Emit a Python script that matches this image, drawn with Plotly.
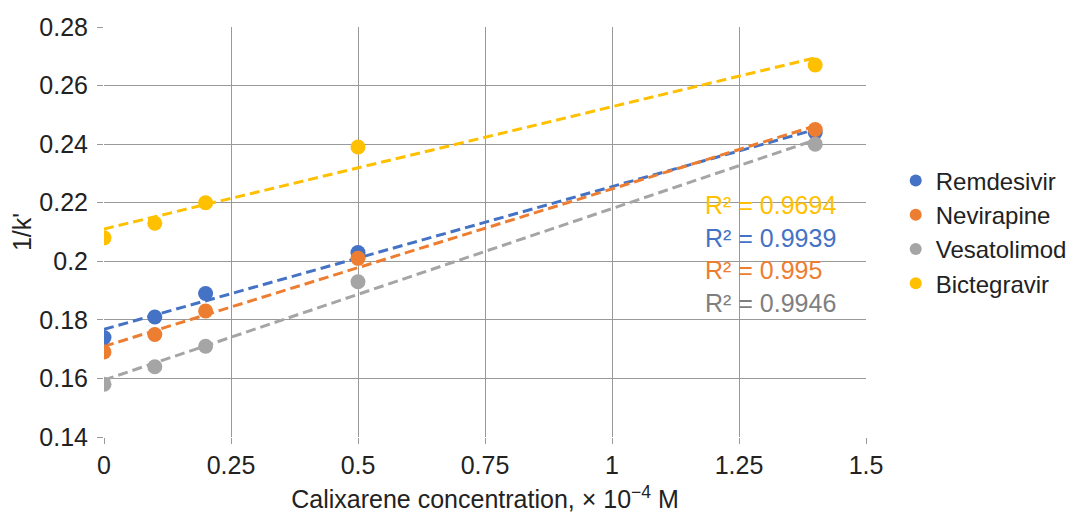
import numpy as np
import plotly.graph_objects as go

conc = [0, 0.1, 0.2, 0.5, 1.4]
names = ["Remdesivir", "Nevirapine", "Vesatolimod", "Bictegravir"]
remdesivir = [0.174, 0.181, 0.189, 0.203, 0.244]
nevirapine = [0.169, 0.175, 0.183, 0.201, 0.245]
vesatolimod = [0.158, 0.164, 0.171, 0.193, 0.240]
bictegravir = [0.208, 0.213, 0.220, 0.239, 0.267]
r2_labels = ["R² = 0.9939", "R² = 0.995", "R² = 0.9946", "R² = 0.9694"]
r2_y = [0.208, 0.197, 0.1858, 0.2192]

series = [remdesivir, nevirapine, vesatolimod, bictegravir]
colors = ["#4472C4", "#ED7D31", "#A5A5A5", "#FFC000"]
text_colors = ["#4472C4", "#ED7D31", "#7F7F7F", "#FFC000"]

FONT = "Liberation Sans, Arial, sans-serif"
FS = 25
fig = go.Figure()

x = np.array(conc)
for name, ys, c in zip(names, series, colors):
    m, b = np.polyfit(x, np.array(ys), 1)
    xt = np.array([conc[0], conc[-1]])
    fig.add_trace(go.Scatter(x=xt, y=m * xt + b, mode="lines",
                             line=dict(color=c, width=3, dash="10px,5px"),
                             showlegend=False, hoverinfo="skip"))

for name, ys, c in zip(names, series, colors):
    fig.add_trace(go.Scatter(x=conc, y=ys, mode="markers", name=name,
                             marker=dict(color=c, size=15)))

for lab, yv, tc in zip(r2_labels, r2_y, text_colors):
    fig.add_annotation(x=1.18, y=yv, text=lab, showarrow=False, xanchor="left",
                       yanchor="middle", font=dict(family=FONT, size=FS, color=tc))

fig.update_layout(
    width=1069, height=505,
    margin=dict(l=96, r=211, t=19, b=76, autoexpand=False),
    plot_bgcolor="white", paper_bgcolor="white",
    font=dict(family=FONT, size=FS, color="#222222"),
    legend=dict(x=1.039, y=0.5, yanchor="middle", xanchor="left",
                font=dict(family=FONT, size=24, color="#222222"),
                itemsizing="constant", tracegroupgap=0),
    showlegend=True,
)
fig.update_xaxes(range=[0, 1.5], tickvals=[0, 0.25, 0.5, 0.75, 1, 1.25, 1.5],
                 ticktext=["0", "0.25", "0.5", "0.75", "1", "1.25", "1.5"],
                 showgrid=True, gridcolor="#999999", gridwidth=1,
                 zeroline=False, showline=False, ticks="outside", ticklen=6,
                 tickcolor="#999999", automargin=False,
                 title=dict(text="Calixarene concentration, × 10<sup>−4</sup> M",
                            font=dict(family=FONT, size=FS), standoff=14))
fig.update_yaxes(range=[0.14, 0.28], tickvals=[0.14, 0.16, 0.18, 0.2, 0.22, 0.24, 0.26, 0.28],
                 ticktext=["0.14", "0.16", "0.18", "0.2", "0.22", "0.24", "0.26", "0.28"],
                 showgrid=True, gridcolor="#999999", gridwidth=1,
                 zeroline=False, showline=False, ticks="outside", ticklen=6,
                 tickcolor="#999999", automargin=False, ticklabelstandoff=4,
                 title=dict(text="1/k'", font=dict(family=FONT, size=FS), standoff=8))

fig.write_html("out.html")
